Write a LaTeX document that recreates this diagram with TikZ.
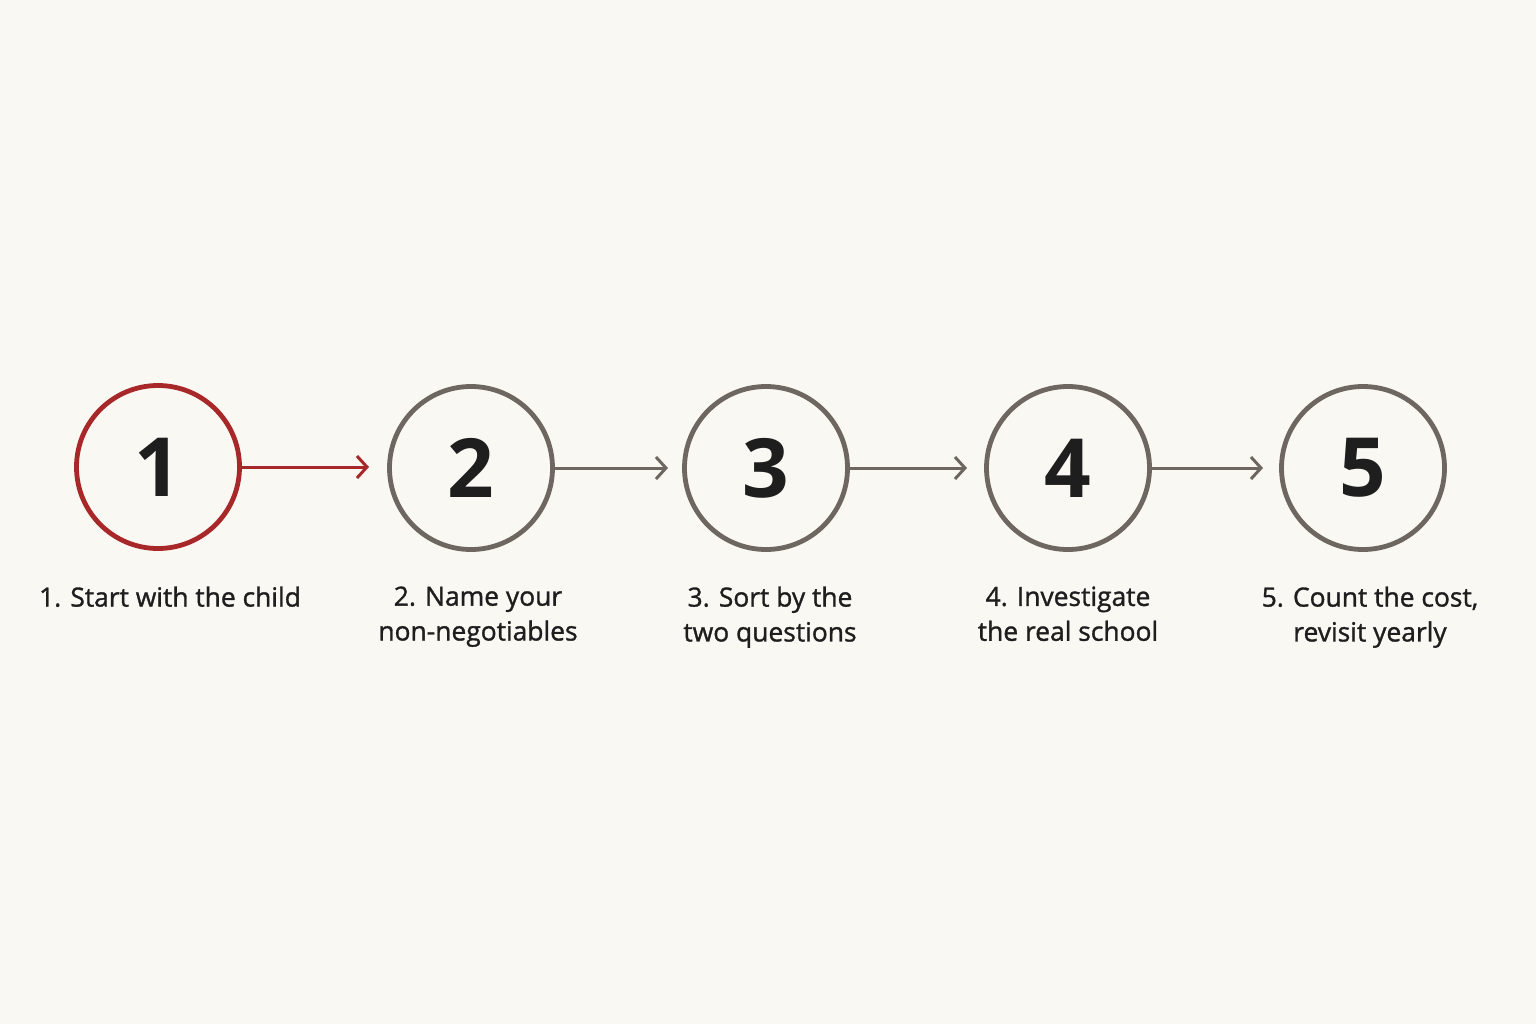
\documentclass[tikz,border=0pt]{standalone}
\usepackage{fontspec}
\setmainfont{Open Sans}
\newfontfamily\labelfont[FakeBold=1.2]{Open Sans}
\usetikzlibrary{arrows.meta}
\definecolor{bg}{HTML}{FAF8F3}
\definecolor{redc}{HTML}{A8282A}
\definecolor{grayc}{HTML}{6E6660}
\definecolor{txt}{HTML}{1E1E1E}
\begin{document}
\begin{tikzpicture}[x=1bp,y=-1bp,
  stepcircle/.style={circle,draw=grayc,line width=4.8bp,minimum size=163bp,inner sep=0pt,
    font=\fontsize{82}{82}\selectfont\bfseries,text=txt},
  firstcircle/.style={stepcircle,draw=redc},
  conn/.style={draw=grayc,line width=3bp,-{Straight Barb[length=10bp,width=22bp,line width=3bp]}},
  firstconn/.style={conn,draw=redc},
  steplabel/.style={align=center,font=\labelfont\fontsize{26.5}{35}\selectfont,text=txt,anchor=north}]
\fill[bg] (0,0) rectangle (1536,1024);
\useasboundingbox (0,0) rectangle (1536,1024);
\node[firstcircle] (c1) at (158,467) {1};
\node[stepcircle] (c2) at (471,468) {2};
\node[stepcircle] (c3) at (766,468) {3};
\node[stepcircle] (c4) at (1068,468) {4};
\node[stepcircle] (c5) at (1363,468) {5};
\coordinate (t1) at (369,467);
\coordinate (t2) at (668,468);
\coordinate (t3) at (967,468);
\coordinate (t4) at (1263,468);
\draw[firstconn] (c1.east) -- (t1);
\draw[conn] (c2.east) -- (t2);
\draw[conn] (c3.east) -- (t3);
\draw[conn] (c4.east) -- (t4);
\node[steplabel] (l1) at (170,583) {1. Start with the child};
\node[steplabel] (l2) at (478,583) {2. Name your\\non-negotiables};
\node[steplabel] (l3) at (770,583) {3. Sort by the\\two questions};
\node[steplabel] (l4) at (1068,583) {4. Investigate\\the real school};
\node[steplabel] (l5) at (1370,583) {5. Count the cost,\\revisit yearly};
\end{tikzpicture}
\end{document}
